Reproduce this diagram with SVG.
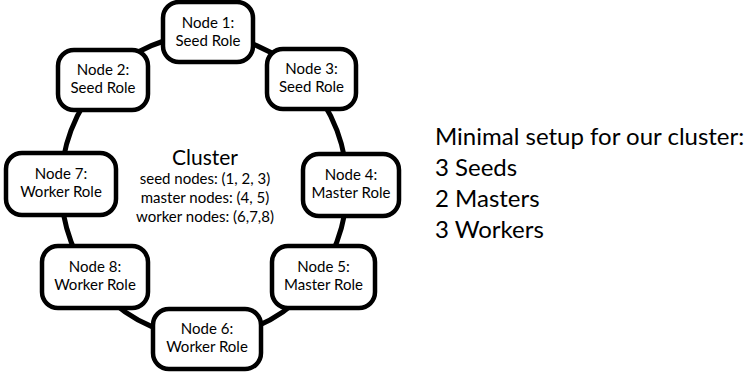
<svg xmlns="http://www.w3.org/2000/svg" width="750" height="372" viewBox="0 0 750 372">
  <style>
    .ring { fill: none; stroke: #000; stroke-width: 5; }
    .box { fill: #fff; stroke: #000; stroke-width: 4.5; }
    .lbl { font-family: Lato, "Open Sans", sans-serif; font-size: 15px; fill: #000; text-anchor: middle; }
    .ctr { font-family: Lato, "Open Sans", sans-serif; fill: #000; text-anchor: middle; }
    .side { font-family: Lato, "Open Sans", sans-serif; font-size: 24px; fill: #000; }
  </style>

  <!-- ring connecting every node of the cluster -->
  <g id="connectors">
    <ellipse class="ring" cx="204" cy="186" rx="143" ry="151"/>
  </g>

  <g id="node1">
    <rect class="box" x="163" y="2" width="90" height="60" rx="16"/>
    <text class="lbl" x="208" y="28">Node 1:</text>
    <text class="lbl" x="208" y="46">Seed Role</text>
  </g>
  <g id="node2">
    <rect class="box" x="58" y="50" width="90" height="60" rx="16"/>
    <text class="lbl" x="103" y="75">Node 2:</text>
    <text class="lbl" x="103" y="93">Seed Role</text>
  </g>
  <g id="node3">
    <rect class="box" x="267" y="49" width="89" height="60" rx="16"/>
    <text class="lbl" x="311.5" y="74">Node 3:</text>
    <text class="lbl" x="311.5" y="92">Seed Role</text>
  </g>
  <g id="node7">
    <rect class="box" x="6" y="153" width="110" height="62" rx="16"/>
    <text class="lbl" x="61" y="179">Node 7:</text>
    <text class="lbl" x="61" y="197">Worker Role</text>
  </g>
  <g id="node4">
    <rect class="box" x="303" y="154" width="96" height="62" rx="16"/>
    <text class="lbl" x="351" y="180">Node 4:</text>
    <text class="lbl" x="351" y="198">Master Role</text>
  </g>
  <g id="node8">
    <rect class="box" x="42" y="246" width="106" height="62" rx="16"/>
    <text class="lbl" x="95" y="272">Node 8:</text>
    <text class="lbl" x="95" y="290">Worker Role</text>
  </g>
  <g id="node5">
    <rect class="box" x="272" y="246" width="103" height="62" rx="16"/>
    <text class="lbl" x="323.5" y="272">Node 5:</text>
    <text class="lbl" x="323.5" y="290">Master Role</text>
  </g>
  <g id="node6">
    <rect class="box" x="153" y="309" width="108" height="60" rx="16"/>
    <text class="lbl" x="207" y="334">Node 6:</text>
    <text class="lbl" x="207" y="352">Worker Role</text>
  </g>

  <!-- cluster summary in the middle of the ring -->
  <g id="cluster-info">
    <text class="ctr" x="205" y="165" font-size="21">Cluster</text>
    <text class="ctr" x="205" y="184" font-size="15">seed nodes: (1, 2, 3)</text>
    <text class="ctr" x="205" y="203" font-size="15">master nodes: (4, 5)</text>
    <text class="ctr" x="205" y="222" font-size="15">worker nodes: (6,7,8)</text>
  </g>

  <!-- notes on the right -->
  <g id="notes">
    <text class="side" x="435" y="145">Minimal setup for our cluster:</text>
    <text class="side" x="435" y="176">3 Seeds</text>
    <text class="side" x="435" y="207">2 Masters</text>
    <text class="side" x="435" y="238">3 Workers</text>
  </g>
</svg>
